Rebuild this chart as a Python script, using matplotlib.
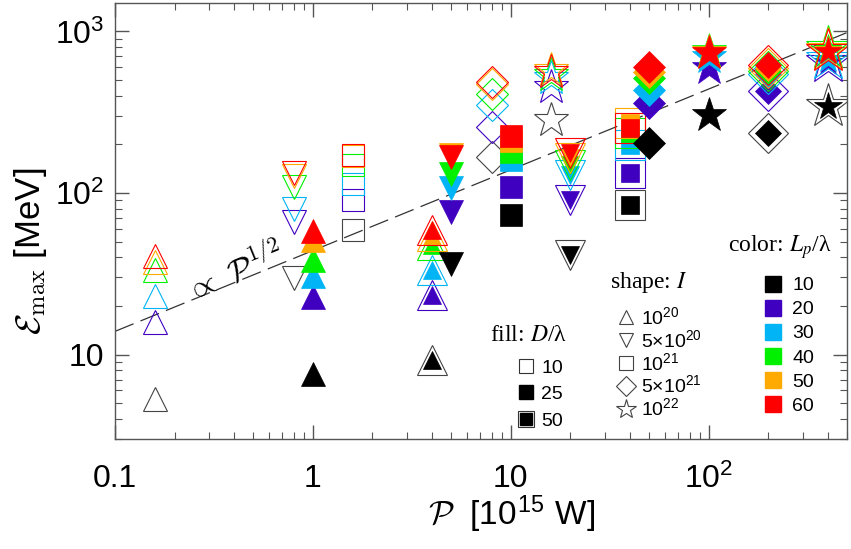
import numpy as np
import matplotlib.pyplot as plt
from matplotlib.lines import Line2D
from matplotlib.ticker import FixedLocator, FixedFormatter, LogLocator, NullFormatter

plt.rcParams['font.family'] = ['Liberation Sans', 'DejaVu Sans']

# color: L_p / lambda
lp_vals = ['10', '20', '30', '40', '50', '60']
lp_colors = ['#000000', '#4000c0', '#00b4f5', '#00f000', '#ffaa00', '#ff0000']

# shape: intensity I
shape_labels = [r'$\mathregular{10^{20}}$', r'5×$\mathregular{10^{20}}$', r'$\mathregular{10^{21}}$',
                r'5×$\mathregular{10^{21}}$', r'$\mathregular{10^{22}}$']
shape_markers = ['^', 'v', 's', 'D', '*']
shape_ms = [17, 17, 16.5, 16, 26]

# fill: D / lambda  (0 open, 1 filled, 2 filled + outline)
fill_labels = ['10', '25', '50']

# runs
P = [0.16, 0.8, 1, 1.6, 4, 5, 8, 10, 16, 20, 40, 50, 100, 200, 400]
shape_idx = [0, 1, 0, 2, 0, 1, 3, 2, 4, 1, 2, 3, 4, 3, 4]
fill_idx = [0, 0, 1, 0, 2, 1, 0, 1, 0, 2, 2, 1, 1, 2, 2]
# E_max [MeV] for L_p/lambda = 10, 20, 30, 40, 50, 60
E = [
    [5.3, 15.8, 23.1, 33.5, 37.5, 40.8],
    [29.9, 66, 80, 109, 127, 133],
    [7.6, 22.8, 30.7, 38.6, 51, 58],
    [59, 90.5, 114, 149, 169, 172],
    [9.3, 23.2, 33.5, 47.7, 54, 59],
    [36.5, 76, 107, 132, 172, 166],
    [167, 255, 349, 408, 470, 488],
    [73, 109, 160, 179, 209, 225],
    [282, 451, 513, 535, 574, 558],
    [41.4, 90.5, 129, 149, 164, 176],
    [84, 133, 198, 235, 270, 252],
    [203, 359, 432, 513, 558, 599],
    [303, 591, 690, 762, 741, 731],
    [234, 426, 543, 566, 590, 624],
    [345, 650, 680, 790, 770, 760],
]

fig = plt.figure(figsize=(8.51, 5.49), dpi=100)
ax = fig.add_axes([115/851, 1-439/549, 732/851, 436/549])
ax.set_xscale('log')
ax.set_yscale('log')
ax.set_xlim(0.1, 500)
ax.set_ylim(3, 1500)

# scaling line
pl = np.array([0.1, 500])
ax.plot(pl, 44*np.sqrt(pl), color='#333333', lw=0.9, dashes=(16, 6), zorder=1)

for i, p in enumerate(P):
    m = shape_markers[shape_idx[i]]
    ms = shape_ms[shape_idx[i]]
    f = fill_idx[i]
    for j, e in enumerate(E[i]):
        c = lp_colors[j]
        ec = '#444444' if j == 0 else c
        if f == 0:
            ax.plot(p, e, m, ms=ms, mfc='none', mec=ec, mew=0.8, zorder=2)
        elif f == 1:
            ax.plot(p, e, m, ms=ms, mfc=c, mec=c, mew=0.5, zorder=2)
        else:
            ax.plot(p, e, m, ms=ms*1.3, mfc='none', mec=ec, mew=0.8, zorder=2)
            ax.plot(p, e, m, ms=ms*0.8, mfc=c, mec=c, mew=0.5, zorder=2)

# axes styling
ax.xaxis.set_major_locator(FixedLocator([0.1, 1, 10, 100]))
ax.xaxis.set_major_formatter(FixedFormatter(['0.1', '1', '10', r'$\mathregular{10^2}$']))
ax.yaxis.set_major_locator(FixedLocator([10, 100, 1000]))
ax.yaxis.set_major_formatter(FixedFormatter(['10', r'$\mathregular{10^2}$', r'$\mathregular{10^3}$']))
for a in (ax.xaxis, ax.yaxis):
    a.set_minor_locator(LogLocator(subs=np.arange(2, 10)))
    a.set_minor_formatter(NullFormatter())
ax.tick_params(which='both', direction='in', top=True, right=True, color='#555555')
ax.tick_params(which='major', length=10, width=1, labelsize=23)
ax.tick_params(which='minor', length=5, width=0.8)
ax.tick_params(axis='x', which='major', pad=18)
ax.tick_params(axis='y', which='major', pad=8)
for s in ax.spines.values():
    s.set_color('#555555')
    s.set_linewidth(1)

ax.set_xlabel(r'$\mathcal{P}$  [10$^{\mathregular{15}}$ W]', fontsize=24, math_fontfamily='cm')
ax.xaxis.set_label_coords(0.542, -0.125)
ax.set_ylabel(r'$\mathcal{E}_{\rm max}$ [MeV]', fontsize=25, math_fontfamily='cm')
ax.yaxis.set_label_coords(-0.09, 0.43)

# slope label
p0, p1 = ax.transData.transform([(0.1, 44*np.sqrt(0.1)), (100, 440)])
ang = np.degrees(np.arctan2(p1[1]-p0[1], p1[0]-p0[0]))
ax.text(0.40, 33, r'$\propto\ \mathcal{P}^{1/2}$', fontsize=23, rotation=ang,
        rotation_mode='anchor', ha='center', va='center', math_fontfamily='cm')

# legends
lfs = 14
fill_h = [Line2D([], [], ls='none', marker='s', ms=10, mfc='none', mec='#333333', mew=0.8),
          Line2D([], [], ls='none', marker='s', ms=10, mfc='k', mec='k'),
          (Line2D([], [], ls='none', marker='s', ms=12, mfc='none', mec='#333333', mew=0.8),
           Line2D([], [], ls='none', marker='s', ms=8, mfc='k', mec='k'))]
leg1 = ax.legend(fill_h, fill_labels, loc='upper left', bbox_to_anchor=(0.5505, 0.183),
                 frameon=False, fontsize=lfs, borderpad=0, borderaxespad=0,
                 handlelength=0.8, handletextpad=0.4, labelspacing=0.45)
ax.add_artist(leg1)

shape_h = [Line2D([], [], ls='none', marker=m, ms=10 if m != '*' else 15, mfc='none',
                  mec='#444444', mew=0.8) for m in shape_markers]
leg2 = ax.legend(shape_h, shape_labels, loc='upper left', bbox_to_anchor=(0.687, 0.305),
                 frameon=False, fontsize=lfs, borderpad=0, borderaxespad=0,
                 handlelength=0.8, handletextpad=0.4, labelspacing=0.05)
ax.add_artist(leg2)

color_h = [Line2D([], [], ls='none', marker='s', ms=12, mfc=c, mec=c) for c in lp_colors]
leg3 = ax.legend(color_h, lp_vals, loc='upper left', bbox_to_anchor=(0.888, 0.372),
                 frameon=False, fontsize=lfs, borderpad=0, borderaxespad=0,
                 handlelength=0.8, handletextpad=0.6, labelspacing=0.33)

sfont = dict(family='Liberation Serif', fontsize=17, va='center', ha='left',
             transform=ax.transAxes, math_fontfamily='stix')
ax.text(0.512, 0.2385, r'fill: $D$/λ', **sfont)
ax.text(0.676, 0.360, r'shape: $I$', **sfont)
ax.text(0.837, 0.440, r'color: $L_p$/λ', **sfont)

fig.savefig('out.png', dpi=100)
